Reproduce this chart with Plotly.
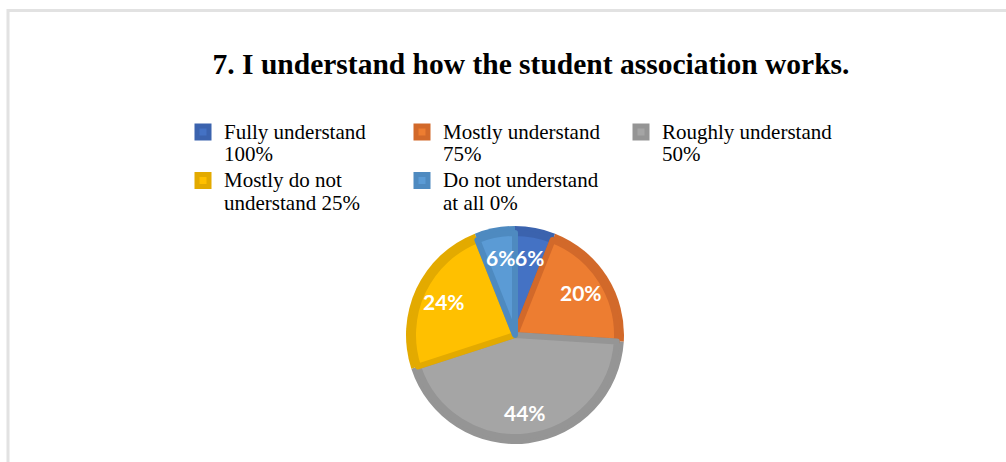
import math
import plotly.graph_objects as go

# Survey item 7: distribution of answers
categories = [
    "Fully understand<br>100%",
    "Mostly understand<br>75%",
    "Roughly understand<br>50%",
    "Mostly do not<br>understand 25%",
    "Do not understand<br>at all 0%",
]
shares = [6, 20, 44, 24, 6]
title_text = "7. I understand how the student association works."

# Slice fills and their darker bevel edge
fill_colors = ["#4472C4", "#ED7D31", "#A5A5A5", "#FFC000", "#5B9BD5"]
edge_colors = ["#3B63AE", "#D2692A", "#959595", "#E3AA00", "#4E8AC0"]

W, H = 1006, 462
ML, MR, MT, MB = 80, 80, 0, 0
PW, PH = W - ML - MR, H - MT - MB


def px_x(x):
    return (x - ML) / PW


def px_y(y):
    return 1 - (y - MT) / PH


# legend entries: glyphs at 21px on a tighter line pitch
legend_names = [
    "<br>".join(f'<span style="font-size:21px">{part}</span>' for part in c.split("<br>"))
    for c in categories
]

# pie geometry in pixels
CX, CY, R = 515, 335, 109
BEVEL = 7
outer_dom = dict(x=[px_x(CX - R), px_x(CX + R)], y=[px_y(CY + R), px_y(CY - R)])
ri = R - BEVEL
inner_dom = dict(x=[px_x(CX - ri), px_x(CX + ri)], y=[px_y(CY + ri), px_y(CY - ri)])

fig = go.Figure()
fig.add_trace(go.Pie(
    labels=legend_names, values=shares, sort=False, direction="clockwise", rotation=0,
    domain=outer_dom, textinfo="none", hoverinfo="skip", showlegend=False,
    marker=dict(colors=edge_colors, line=dict(width=0)),
))
fig.add_trace(go.Pie(
    labels=legend_names, values=shares, sort=False, direction="clockwise", rotation=0,
    domain=inner_dom, textinfo="none",
    marker=dict(colors=fill_colors, line=dict(color=edge_colors, width=6)),
))

# percentage labels placed at the middle angle of each slice
total = sum(shares)
acc = 0
for v in shares:
    mid = (acc + v / 2) / total * 2 * math.pi
    acc += v
    r = 0.72 * R
    lx = CX + math.sin(mid) * r
    ly = CY - math.cos(mid) * r
    fig.add_annotation(
        x=px_x(lx), y=px_y(ly), xref="paper", yref="paper",
        text=f"{v}%", showarrow=False, xanchor="center", yanchor="middle",
        font=dict(family="Lato", size=21, color="white", weight="bold"),
    )

# light frame around the chart area
fig.add_shape(
    type="rect", xref="paper", yref="paper",
    x0=px_x(8), x1=px_x(W + 10), y0=px_y(H + 10), y1=px_y(10.5),
    line=dict(color="#E2E2E2", width=3), fillcolor="rgba(0,0,0,0)", layer="below",
)

fig.update_layout(
    width=W, height=H,
    margin=dict(l=ML, r=MR, t=MT, b=MB),
    paper_bgcolor="white", plot_bgcolor="white",
    title=dict(
        text=f"<b>{title_text}</b>", x=531 / W, xref="container", xanchor="center",
        y=1 - 64 / H, yref="container", yanchor="middle",
        font=dict(family="Liberation Serif", size=29.5, color="black"),
    ),
    legend=dict(
        orientation="h", x=px_x(182), xanchor="left", y=px_y(114), yanchor="top",
        entrywidth=172, itemwidth=32, valign="top", traceorder="normal",
        font=dict(family="Liberation Serif", size=17.5, color="black"),
        bgcolor="rgba(0,0,0,0)",
    ),
    showlegend=True,
)

fig.write_html("out.html")
